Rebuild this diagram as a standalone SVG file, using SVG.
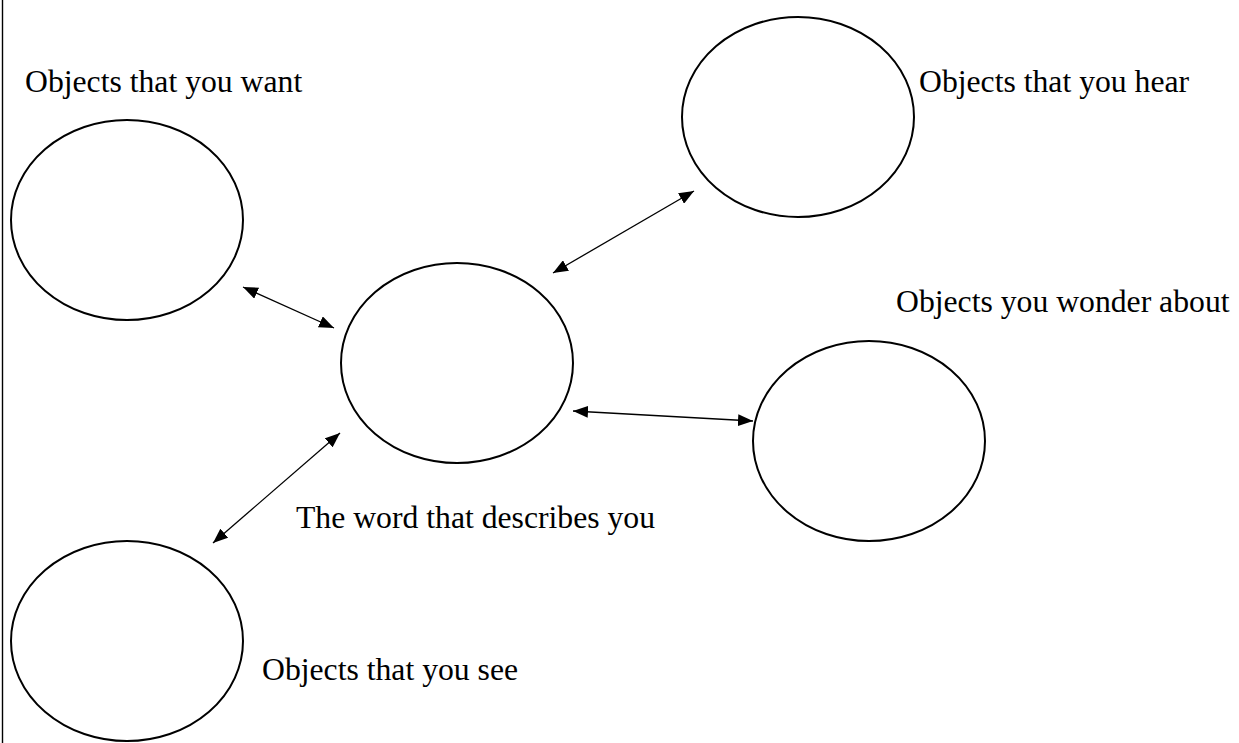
<svg xmlns="http://www.w3.org/2000/svg" width="1239" height="743" viewBox="0 0 1239 743">
<style>
.node{fill:none;stroke:#000;stroke-width:2}
.lbl{font-family:"Liberation Serif","Times New Roman",serif;font-size:31.7px;fill:#000}
.conn{stroke:#000;stroke-width:1.3;fill:none;marker-start:url(#ah);marker-end:url(#ah)}
</style>
<defs>
<marker id="ah" markerUnits="userSpaceOnUse" markerWidth="15" markerHeight="12" refX="15" refY="6" orient="auto-start-reverse" viewBox="0 0 15 12">
<path d="M0,0 L15,6 L0,12 z" fill="#000"/>
</marker>
</defs>
<rect width="1239" height="743" fill="#fff"/>
<line x1="2.5" y1="0" x2="2.5" y2="743" stroke="#000" stroke-width="1.4"/>
<g id="want">
<ellipse class="node" cx="127" cy="220" rx="116" ry="100"/>
<text class="lbl" x="25" y="92">Objects that you want</text>
</g>
<g id="hear">
<ellipse class="node" cx="798" cy="117" rx="116" ry="100"/>
<text class="lbl" x="919" y="92">Objects that you hear</text>
</g>
<g id="center">
<ellipse class="node" cx="457" cy="363" rx="116" ry="100"/>
<text class="lbl" x="296" y="528">The word that describes you</text>
</g>
<g id="wonder">
<ellipse class="node" cx="869" cy="441" rx="116" ry="100"/>
<text class="lbl" x="896" y="312">Objects you wonder about</text>
</g>
<g id="see">
<ellipse class="node" cx="127" cy="641" rx="116" ry="100"/>
<text class="lbl" x="262" y="680">Objects that you see</text>
</g>
<g id="connectors">
<line class="conn" x1="243" y1="287" x2="334" y2="328"/>
<line class="conn" x1="553" y1="273" x2="694" y2="191"/>
<line class="conn" x1="573" y1="411" x2="753" y2="421"/>
<line class="conn" x1="213" y1="543" x2="340" y2="433"/>
</g>
</svg>
